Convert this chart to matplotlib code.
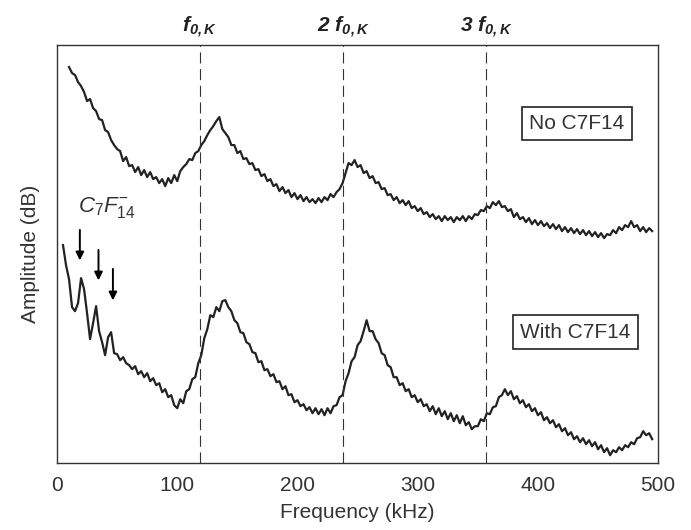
import numpy as np
import matplotlib
matplotlib.use("Agg")
import matplotlib.pyplot as plt

plt.rcParams['font.family'] = ['Liberation Sans', 'DejaVu Sans']
plt.rcParams['mathtext.fontset'] = 'custom'
plt.rcParams['mathtext.rm'] = 'Liberation Sans'
plt.rcParams['mathtext.it'] = 'Liberation Sans:italic'
plt.rcParams['mathtext.bf'] = 'Liberation Sans:bold'
plt.rcParams['mathtext.bfit'] = 'Liberation Sans:bold:italic'

# spectrum without C7F14, sampled every 2.5 kHz from 10 kHz (arbitrary dB units)
no_c7f14 = [396, 390, 388, 381, 377, 371,
            362, 364, 355, 352, 344,
            343, 333, 331, 323, 318, 314,
            312, 302, 306, 297, 298,
            291, 296, 288, 293, 286, 291,
            284, 286, 280, 284,
            277, 285, 280, 288, 282,
            292, 296, 299, 304, 303,
            310, 312, 318, 322,
            328, 333, 337, 342, 346,
            334, 330, 326, 318, 318,
            310, 312, 304, 305, 299,
            300, 293, 294, 287, 289, 282,
            284, 277, 279, 272, 276,
            270, 273, 266, 270, 264, 268,
            262, 266, 261, 264, 260,
            265, 261, 266, 263, 269, 266,
            271, 274, 280,
            290, 300, 298, 303,
            296, 298, 290, 292, 285, 287,
            280, 281, 274, 275, 268, 269,
            263, 266, 260, 263, 258,
            262, 255, 257, 252, 255, 249,
            251, 246, 249, 244, 247,
            242, 247, 243, 246, 241, 246,
            243, 247, 242, 247, 244,
            249, 248, 253, 252, 257,
            255, 261, 258,
            262, 256, 257, 252,
            254, 246, 250, 244, 246,
            241, 245, 239, 243, 238, 242,
            237, 240, 235, 239, 234,
            238, 232, 236, 231, 235, 230,
            234, 229, 233, 228, 232,
            227, 231, 226, 230, 225, 229,
            228, 233, 230, 236, 233, 238,
            236, 242,
            236, 238, 232, 236, 231,
            235, 232]

# spectrum with C7F14, sampled every 2.5 kHz from 5 kHz
with_c7f14 = [218, 198, 184, 156, 152, 160, 185, 174, 150, 124, 140, 157, 132, 121, 108, 126, 131, 110, 109, 103, 106,
              100, 98, 94, 97, 89, 92, 86, 90, 82,
              85, 78, 80, 71, 74, 66, 68, 58, 55, 64,
              60, 72, 74, 84, 86, 100, 108, 125, 134, 148, 146, 156, 152, 162, 163, 156,
              152, 143, 140, 131, 130, 121, 119, 111, 110, 101, 102, 93, 94,
              87, 89, 81, 82, 74, 77, 68, 69, 61, 63, 57, 59,
              53, 56, 50, 55, 49, 54, 48, 55, 50, 57, 58, 66, 68,
              82, 90, 102, 106, 118, 122, 132, 143, 132, 132, 124, 120, 110, 108, 98, 96, 86,
              86, 78, 80, 72, 74, 66, 68, 61, 64, 57,
              59, 52, 57, 49, 55, 47, 52, 44, 50, 42, 48, 40, 47, 38, 41, 34, 37,
              37, 44, 42, 50, 49, 56, 57, 66, 68, 74, 68, 72, 64, 67, 60, 63, 56,
              59, 52, 55, 48, 51, 43, 46, 40, 43, 36, 39, 32, 35, 28, 31, 24,
              27, 21, 25, 19, 23, 17, 21, 14, 18, 11, 15, 8, 13, 11, 16, 13, 18, 16, 21, 19, 25, 26, 32, 28, 30, 24]

f_no = 10 + 2.5 * np.arange(len(no_c7f14))
f_with = 5 + 2.5 * np.arange(len(with_c7f14))

harmonics = [119, 238, 357]
harmonic_labels = [r'$\mathbfit{f}_{\mathbfit{0,K}}$',
                   r'$\mathbfit{2\ f}_{\mathbfit{0,K}}$',
                   r'$\mathbfit{3\ f}_{\mathbfit{0,K}}$']
arrow_f = [19, 34.5, 46.5]
arrow_top = [236, 216, 197]
arrow_tip = [200, 180, 160]

fig = plt.figure(figsize=(6.91, 5.30), dpi=100)
ax = fig.add_axes([0.0825, 0.126, 0.87, 0.789])

line_col = '#222222'
ax.plot(f_no, no_c7f14, color=line_col, lw=1.6)
ax.plot(f_with, with_c7f14, color=line_col, lw=1.6)

for h, lab in zip(harmonics, harmonic_labels):
    ax.axvline(h, color='#333333', lw=0.8, ls=(0, (10, 5)))
    ax.text(h, 423, lab, ha='center', va='bottom', fontsize=15, color='#222222')

for xa, yt, yb in zip(arrow_f, arrow_top, arrow_tip):
    ax.annotate('', xy=(xa, yb), xytext=(xa, yt),
                arrowprops=dict(arrowstyle='-|>', color='black', lw=1.4, mutation_scale=12))

ax.text(41.5, 256, r'$\mathit{C}_7\mathit{F}_{14}^{-}$', ha='center', va='center',
        fontsize=16, color='#333333')

box = dict(boxstyle='square,pad=0.35', fc='white', ec='#222222', lw=1.2)
ax.text(432.5, 339.5, 'No C7F14', ha='center', va='center', fontsize=15, color='#333333', bbox=box)
ax.text(431, 131, 'With C7F14', ha='center', va='center', fontsize=15, color='#333333', bbox=box)

ax.set_xlim(0, 500)
ax.set_ylim(0, 418)
ax.set_xticks([0, 100, 200, 300, 400, 500])
ax.set_yticks([])
ax.tick_params(axis='x', length=0, pad=9, labelsize=15, labelcolor='#333333')
for s in ax.spines.values():
    s.set_color('#333333')
    s.set_linewidth(1.0)

ax.set_xlabel('Frequency (kHz)', fontsize=15, color='#333333', labelpad=6)
ax.set_ylabel('Amplitude (dB)', fontsize=15, color='#333333', labelpad=12)

fig.savefig('out.png', dpi=100)
